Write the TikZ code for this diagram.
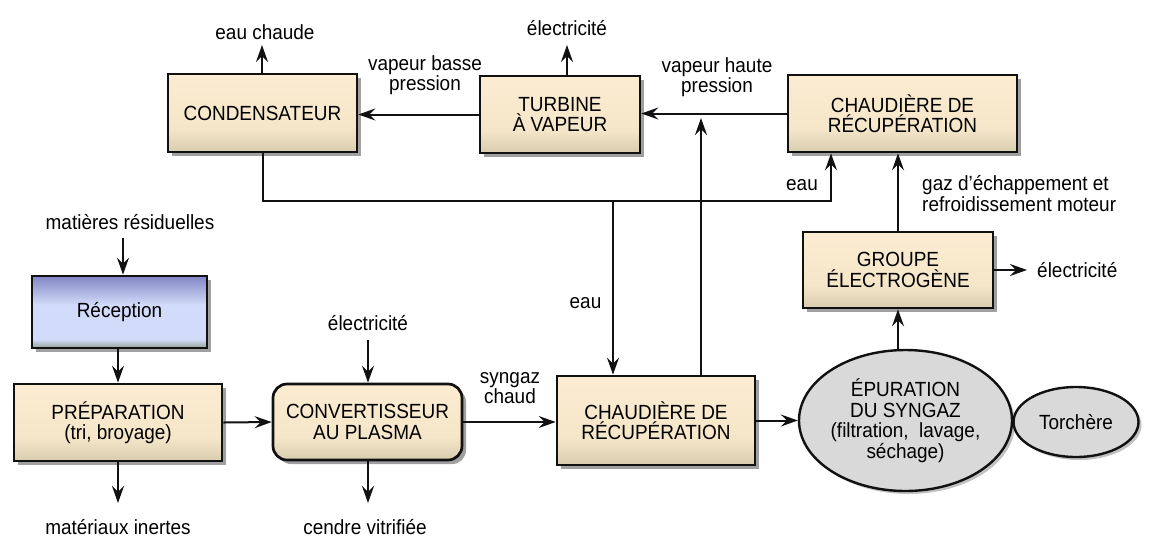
\documentclass[tikz,border=0pt]{standalone}
\usepackage{fontspec}
\setmainfont[FakeStretch=0.925]{Liberation Sans}
\usetikzlibrary{arrows.meta,shapes.geometric,shadows,calc}
\definecolor{creamT}{HTML}{FCECD2}
\definecolor{creamM}{HTML}{F5E6C9}
\definecolor{creamB}{HTML}{D8CCAF}
\definecolor{blueT}{HTML}{8286C4}
\definecolor{blueL}{HTML}{D2DBF9}
\definecolor{blueB}{HTML}{93A394}
\definecolor{ellfill}{HTML}{D9D9D9}
\definecolor{ink}{HTML}{111111}
\pgfdeclareverticalshading{creamshade}{100bp}{color(0bp)=(creamB); color(25bp)=(creamB); color(40bp)=(creamM); color(75bp)=(creamT); color(100bp)=(creamT)}
\pgfdeclareverticalshading{blueshade}{100bp}{color(0bp)=(blueB); color(25bp)=(blueB); color(31bp)=(blueL); color(55bp)=(blueL); color(75bp)=(blueT); color(100bp)=(blueT)}
\tikzset{
  txt/.style={font=\fontsize{20.5}{20.5}\selectfont, align=center, inner sep=0pt},
  boxshadow/.style={drop shadow={shadow xshift=4pt, shadow yshift=-4pt, fill=black!50, opacity=0.75}},
  box/.style={txt, rectangle, draw=ink, line width=2.7pt, shading=creamshade, boxshadow},
  bluebox/.style={box, shading=blueshade},
  ell/.style={txt, ellipse, draw=ink, line width=2.4pt, fill=ellfill, drop shadow={shadow xshift=3pt, shadow yshift=-3pt, fill=black!40, opacity=0.6}},
  arr/.style={draw=ink, line width=2pt, -{Stealth[length=17pt, width=12pt, inset=6pt]}},
  ln/.style={draw=ink, line width=2pt},
}
\begin{document}
\begin{tikzpicture}[x=1pt, y=-1pt]
\useasboundingbox (0,0) rectangle (1153,555);

% boxes
\node[box, minimum width=189pt, minimum height=78pt] (cond) at (262.5,113) {CONDENSATEUR};
\node[box, minimum width=160pt, minimum height=77pt] (turb) at (560,114.5) {TURBINE\\À VAPEUR};
\node[box, minimum width=229pt, minimum height=77pt] (chaudT) at (902.5,113.5) {CHAUDIÈRE DE\\RÉCUPÉRATION};
\node[box, minimum width=190pt, minimum height=76pt] (groupe) at (898,270) {GROUPE\\ÉLECTROGÈNE};
\node[bluebox, minimum width=175pt, minimum height=72pt] (recep) at (119.5,312) {Réception};
\node[box, minimum width=208pt, minimum height=77pt] (prep) at (118,422.5) {PRÉPARATION\\(tri, broyage)};
\node[box, rounded corners=14pt, minimum width=189pt, minimum height=76pt] (conv) at (367.5,422) {CONVERTISSEUR\\AU PLASMA};
\node[box, minimum width=198pt, minimum height=89pt] (chaudB) at (656,420.5) {CHAUDIÈRE DE\\RÉCUPÉRATION};
\node[ell, minimum width=213pt, minimum height=141pt] (epur) at (905.5,420.5) {ÉPURATION\\DU SYNGAZ\\(filtration,\ \ lavage,\\séchage)};
\node[ell, minimum width=125pt, minimum height=70pt] (torch) at (1076,422) {Torchère};

% labels
\node[txt] (mat) at (130,222) {matières résiduelles};
\node[txt] (inert) at (118,527) {matériaux inertes};
\node[txt] (cendre) at (365,527) {cendre vitrifiée};
\node[txt] (elConv) at (368,323) {électricité};
\node[txt] (syn) at (510,388) {syngaz\\chaud};
\node[txt] (eauB) at (585.5,303) {eau};
\node[txt, anchor=east] (eauT) at (818,185) {eau};
\node[txt, anchor=west, align=left] (gaz) at (922,193.5) {gaz d’échappement et\\refroidissement moteur};
\node[txt, anchor=west] (elGr) at (1037,270) {électricité};
\node[txt] (vhp) at (717,77) {vapeur haute\\pression};
\node[txt] (vbp) at (425,75) {vapeur basse\\pression};
\node[txt] (elTurb) at (567,28) {électricité};
\node[txt] (eauCh) at (265,32) {eau chaude};

% free-end coordinates
\coordinate (matA) at (123,238);
\coordinate (inA) at (118,503);
\coordinate (elA) at (368,340);
\coordinate (cvA) at (368,503);
\coordinate (geA) at (1027,270);
\coordinate (teA) at (567,45);
\coordinate (ecA) at (262,45);
\coordinate (eauC) at (831,201);
\coordinate (br) at (613,201);
\coordinate (upA) at (701,118);

% connectors
\draw[arr] (matA) -- (matA |- recep.north);
\draw[arr] (recep.south -| prep.north) -- (prep.north);
\draw[arr] (prep.south) -- (prep.south |- inA);
\draw[arr] (prep.east) -- (conv.west);
\draw[arr] (elA) -- (elA |- conv.north);
\draw[arr] (conv.south -| cvA) -- (cvA);
\draw[arr] (conv.east) -- (conv.east -| chaudB.west);
\draw[arr] (chaudB.east) -- (epur.west);
\draw[ln] (epur.east) -- (torch.west);
\draw[arr] (groupe.south |- epur.north) -- (groupe.south);
\draw[arr] (groupe.north) -- (groupe.north |- chaudT.south);
\draw[arr] (groupe.east) -- (geA);
\draw[arr] (chaudT.west) -- (chaudT.west -| turb.east);
\draw[arr] (turb.west) -- (turb.west -| cond.east);
\draw[arr] (teA |- turb.north) -- (teA);
\draw[arr] (cond.north -| ecA) -- (ecA);
\draw[arr] (cond.south) |- (eauC) -- (eauC |- chaudT.south);
\draw[arr] (br) -- (br |- chaudB.north);
\draw[arr] (upA |- chaudB.north) -- (upA);
\end{tikzpicture}
\end{document}
